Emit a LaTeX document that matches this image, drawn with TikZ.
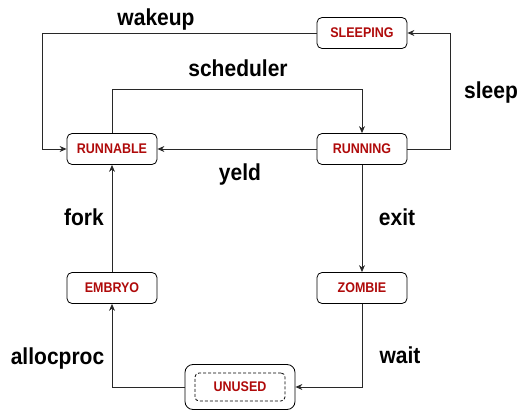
\documentclass[tikz,border=0pt]{standalone}
\usepackage{fontspec}
\setmainfont{Liberation Sans}
\usetikzlibrary{arrows.meta}
\definecolor{statered}{RGB}{175,10,10}
\definecolor{linegray}{RGB}{40,40,40}
\begin{document}
\begin{tikzpicture}[x=1pt,y=-1pt,
  state/.style={draw=black,line width=0.8pt,rounded corners=5pt,minimum width=90pt,minimum height=31pt,inner sep=0pt,
    font=\fontsize{12.5}{14}\selectfont\bfseries,text=statered},
  conn/.style={draw=linegray,line width=0.9pt,-{Stealth[length=7pt,width=6pt]}},
  lbl/.style={anchor=base,font=\fontsize{21}{24}\selectfont\bfseries,text=black,inner sep=0pt}]
\useasboundingbox (0,0) rectangle (520,412);
\node[state] (sleeping) at (362,33) {\scalebox{1}[1.12]{SLEEPING}};
\node[state] (runnable) at (112,149) {\scalebox{1}[1.12]{RUNNABLE}};
\node[state] (running) at (362,149) {\scalebox{1}[1.12]{RUNNING}};
\node[state] (embryo) at (112,288) {\scalebox{1}[1.12]{EMBRYO}};
\node[state] (zombie) at (362,288) {\scalebox{1}[1.12]{ZOMBIE}};
\node[state,rounded corners=8pt,minimum width=110pt,minimum height=45pt] (unused) at (240,387) {};
\node[state,dash pattern=on 3pt off 2pt,line width=0.8pt,rounded corners=4pt,minimum width=90pt,minimum height=28pt] (unusedin) at (240,387) {\scalebox{1}[1.12]{UNUSED}};
\coordinate (wk) at (42,33);
\coordinate (sc) at (112,89);
\coordinate (sc2) at (362,89);
\coordinate (sl) at (450,149);
\coordinate (sl2) at (450,33);
\coordinate (wt) at (362,387);
\coordinate (al) at (112,387);
\draw[conn] (sleeping.west) -- (wk) |- (runnable.west);
\draw[conn] (runnable.north) -- (sc) -- (sc2) -- (running.north);
\draw[conn] (running.east) -- (sl) -- (sl2) -- (sleeping.east);
\draw[conn] (running.west) -- (runnable.east);
\draw[conn] (running.south) -- (zombie.north);
\draw[conn] (zombie.south) -- (wt) -- (unused.east);
\draw[conn] (unused.west) -- (al) -- (embryo.south);
\draw[conn] (embryo.north) -- (runnable.south);
\node[lbl] (lwakeup) at (156,26) {\scalebox{1}[1.1]{wakeup}};
\node[lbl] (lsched) at (238,77) {\scalebox{1}[1.1]{scheduler}};
\node[lbl] (lsleep) at (491,99) {\scalebox{1}[1.1]{sleep}};
\node[lbl] (lyeld) at (240,180.5) {\scalebox{1}[1.1]{yeld}};
\node[lbl] (lexit) at (397,225) {\scalebox{1}[1.1]{exit}};
\node[lbl] (lfork) at (84,225) {\scalebox{1}[1.1]{fork}};
\node[lbl] (lalloc) at (57.5,364) {\scalebox{1}[1.1]{allocproc}};
\node[lbl] (lwait) at (400,363) {\scalebox{1}[1.1]{wait}};
\end{tikzpicture}
\end{document}
